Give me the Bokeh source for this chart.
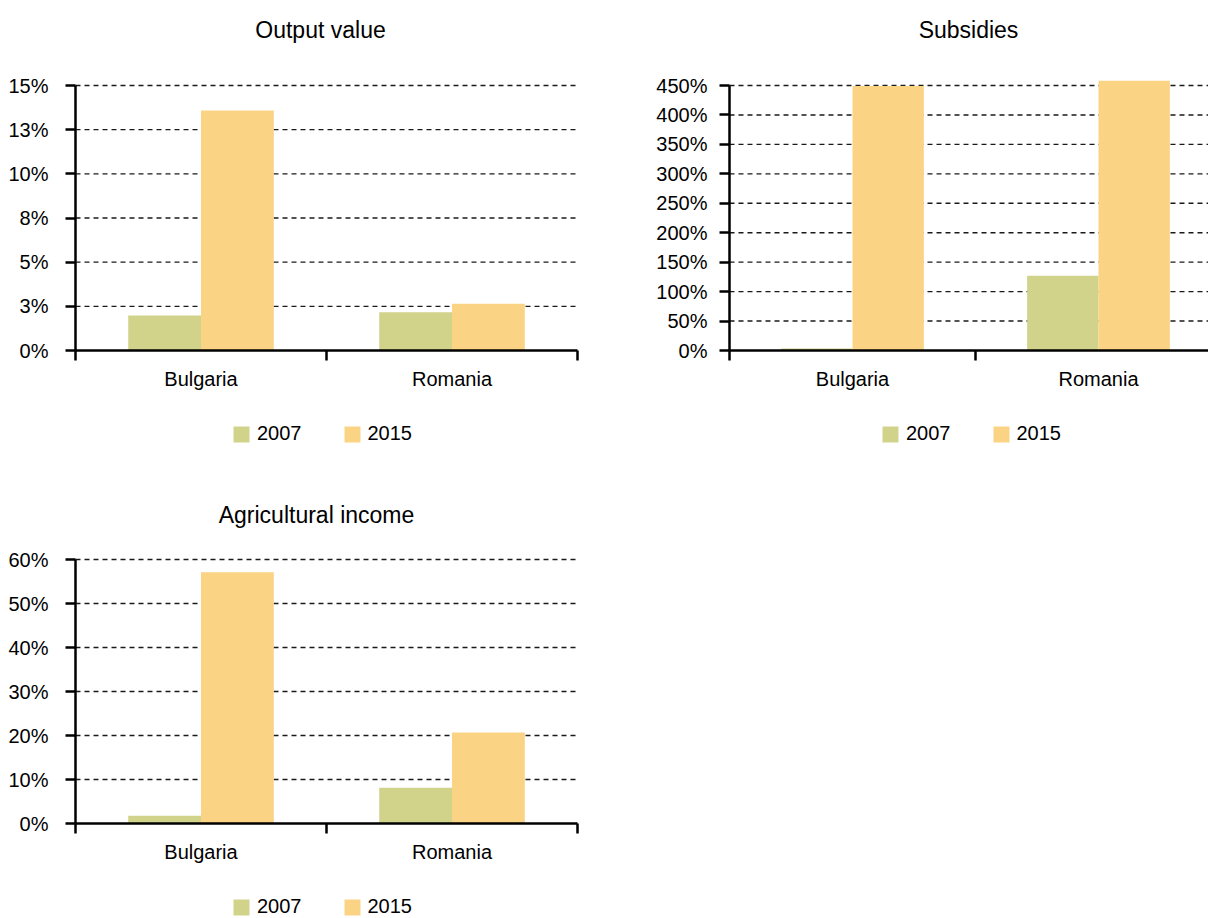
from bokeh.plotting import figure
from bokeh.models import FixedTicker, Range1d, Label, Legend, LegendItem
from bokeh.layouts import column, row
from bokeh.embed import file_html
from bokeh.resources import INLINE

# ---------------- data ----------------
countries = ["Bulgaria", "Romania"]
years = ["2007", "2015"]
year_colors = ["#D1D38A", "#FBD385"]

output_2007 = [1.98, 2.16]
output_2015 = [13.58, 2.65]
output_ticks = [0, 2.5, 5, 7.5, 10, 12.5, 15]
output_tick_labels = ["0%", "3%", "5%", "8%", "10%", "13%", "15%"]

subsidies_2007 = [3.4, 127]
subsidies_2015 = [449, 458]
subsidies_ticks = [0, 50, 100, 150, 200, 250, 300, 350, 400, 450]
subsidies_tick_labels = ["0%", "50%", "100%", "150%", "200%", "250%", "300%", "350%", "400%", "450%"]

income_2007 = [1.75, 8.1]
income_2015 = [57.1, 20.7]
income_ticks = [0, 10, 20, 30, 40, 50, 60]
income_tick_labels = ["0%", "10%", "20%", "30%", "40%", "50%", "60%"]

titles = ["Output value", "Subsidies", "Agricultural income"]

FONT = "Liberation Sans"
BAR_W = 0.29


def make_panel(title, v2007, v2015, ticks, tick_labels, width, height,
               axis_px_x, px_per_cat, zero_px_y, px_per_unit,
               ylabel_standoff, title_xy, legend_xy):
    # the frame fills the whole canvas; the axes are pinned at the data origin
    x_range = Range1d(-axis_px_x / px_per_cat, (width - axis_px_x) / px_per_cat)
    y_range = Range1d(-(height - zero_px_y) / px_per_unit, zero_px_y / px_per_unit)
    p = figure(width=width, height=height, output_backend="svg",
               toolbar_location=None, tools="",
               x_range=x_range, y_range=y_range, min_border=0)
    p.outline_line_color = None
    p.background_fill_color = "white"
    p.border_fill_color = "white"
    p.xgrid.visible = False
    p.ygrid.visible = False

    n_cat = len(countries)

    # dashed value gridlines across the plot area
    grid_vals = [t for t in ticks if t != 0]
    p.segment(x0=[0] * len(grid_vals), x1=[n_cat] * len(grid_vals), y0=grid_vals, y1=grid_vals,
              line_color="#1a1a1a", line_width=1.4, line_dash="5 4")

    renderers = []
    for j, vals in enumerate([v2007, v2015]):
        xs = [i + 0.5 + (j - 0.5) * BAR_W for i in range(n_cat)]
        r = p.vbar(x=xs, top=vals, bottom=0, width=BAR_W,
                   fill_color=year_colors[j], line_color=None)
        renderers.append(r)

    # y axis
    yax = p.yaxis[0]
    yax.fixed_location = 0
    yax.ticker = FixedTicker(ticks=ticks)
    yax.major_label_overrides = {t: lab for t, lab in zip(ticks, tick_labels)}
    yax.bounds = (0, ticks[-1])
    yax.axis_line_width = 2.5
    yax.axis_line_color = "black"
    yax.major_tick_line_width = 2.5
    yax.major_tick_line_color = "black"
    yax.major_tick_out = 10
    yax.major_tick_in = 0
    yax.minor_tick_line_color = None
    yax.major_label_standoff = ylabel_standoff
    yax.major_label_text_font = FONT
    yax.major_label_text_font_size = "20px"
    yax.major_label_text_color = "black"

    # x axis (category boundaries carry the tick marks)
    xax = p.xaxis[0]
    xax.fixed_location = 0
    xax.ticker = FixedTicker(ticks=[0.5, 1.5], minor_ticks=[0, 1, 2])
    xax.major_label_overrides = {0.5: countries[0], 1.5: countries[1]}
    xax.bounds = (0, n_cat)
    xax.axis_line_width = 2.5
    xax.axis_line_color = "black"
    xax.major_tick_out = 0
    xax.major_tick_in = 0
    xax.major_tick_line_color = None
    xax.minor_tick_out = 10
    xax.minor_tick_in = 0
    xax.minor_tick_line_width = 2.5
    xax.minor_tick_line_color = "black"
    xax.major_label_standoff = 7
    xax.major_label_text_font = FONT
    xax.major_label_text_font_size = "20px"
    xax.major_label_text_color = "black"

    p.add_layout(Label(x=title_xy[0], y=title_xy[1], x_units="screen", y_units="screen",
                       text=title, text_align="center", text_baseline="alphabetic",
                       text_font=FONT, text_font_size="23px", text_color="black"))

    legend = Legend(items=[LegendItem(label=years[k], renderers=[renderers[k]]) for k in range(2)],
                    location=legend_xy, orientation="horizontal",
                    glyph_width=20, glyph_height=20, label_height=20, label_standoff=6, spacing=40,
                    padding=0, margin=0, border_line_alpha=0, background_fill_alpha=0,
                    label_text_font=FONT, label_text_font_size="20px", label_text_color="black",
                    label_text_line_height=1.0)
    p.add_layout(legend)
    return p


# panel 1: canvas 604 x 478, axis at x=75, zero at y=350, 15% at y=85
p1 = make_panel(titles[0], output_2007, output_2015, output_ticks, output_tick_labels,
                604, 478, 75, 251, 350, 265 / 15, 17, (320, 449), (231, 33))

# panel 2: canvas 604 x 478 at page x 604, axis at x=729, cut off at the right edge
p2 = make_panel(titles[1], subsidies_2007, subsidies_2015, subsidies_ticks, subsidies_tick_labels,
                604, 478, 125, 246, 350, 265 / 450, 12, (364, 449), (276, 33))

# panel 3: canvas 604 x 440 at page y 478, zero at y=823, 60% at y=559
p3 = make_panel(titles[2], income_2007, income_2015, income_ticks, income_tick_labels,
                604, 440, 75, 251, 345, 264 / 60, 17, (316, 404), (231, 0))

layout = column(row(p1, p2), p3)
open("out.html", "w").write(file_html(layout, INLINE))
